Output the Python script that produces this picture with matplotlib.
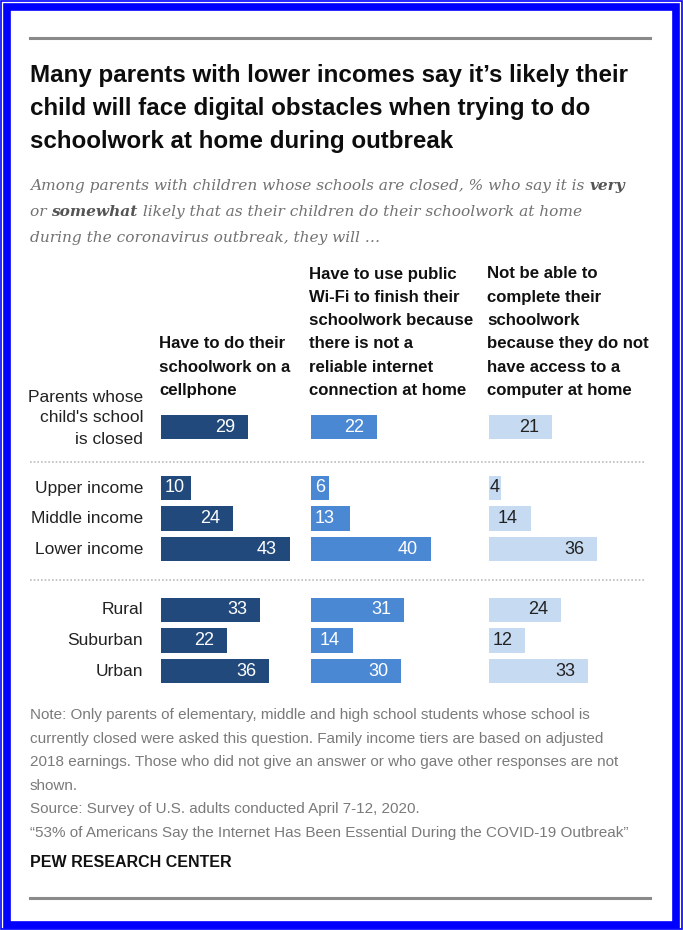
import numpy as np
import matplotlib
matplotlib.use("Agg")
import matplotlib.pyplot as plt
from matplotlib import font_manager
from matplotlib.patches import Rectangle
from matplotlib.lines import Line2D

# ---- data ----
rows = ["Parents whose\nchild's school\nis closed",
        "Upper income", "Middle income", "Lower income",
        "Rural", "Suburban", "Urban"]
row_pos = [0, 2, 3, 4, 6, 7, 8]
cellphone = [29, 10, 24, 43, 33, 22, 36]
public_wifi = [22, 6, 13, 40, 31, 14, 30]
no_computer = [21, 4, 14, 36, 24, 12, 33]
headers = [
    ["Have to do their", "schoolwork on a", "cellphone"],
    ["Have to use public", "Wi-Fi to finish their", "schoolwork because",
     "there is not a", "reliable internet", "connection at home"],
    ["Not be able to", "complete their", "schoolwork",
     "because they do not", "have access to a", "computer at home"],
]
title_lines = ["Many parents with lower incomes say it\u2019s likely their",
               "child will face digital obstacles when trying to do",
               "schoolwork at home during outbreak"]
note_lines = [
    "Note: Only parents of elementary, middle and high school students whose school is",
    "currently closed were asked this question. Family income tiers are based on adjusted",
    "2018 earnings. Those who did not give an answer or who gave other responses are not",
    "shown.",
    "Source: Survey of U.S. adults conducted April 7-12, 2020.",
    "\u201c53% of Americans Say the Internet Has Been Essential During the COVID-19 Outbreak\u201d",
]

W, H = 683, 930
names = {f.name for f in font_manager.fontManager.ttflist}
COND = "Liberation Sans Narrow" if "Liberation Sans Narrow" in names else "Liberation Sans"
SERIF = "DejaVu Serif"

colors = ["#21497c", "#4a88d4", "#c6daf1"]
label_colors = ["white", "white", "#222222"]


def fx(px):
    return px / W


def fy(py):
    return 1 - py / H


fig = plt.figure(figsize=(W / 100, H / 100), dpi=100)
fig.patch.set_facecolor("white")

# blue frame
fig.add_artist(Rectangle((fx(1), fy(929)), fx(681), 928 / H, transform=fig.transFigure,
                         fill=False, edgecolor="#0000ff", linewidth=1.2))
fig.add_artist(Rectangle((fx(7), fy(924.5)), fx(669), 917.5 / H, transform=fig.transFigure,
                         fill=False, edgecolor="#0000ff", linewidth=5.5))

# top / bottom rules
for y in (38, 898):
    fig.add_artist(Line2D([fx(30), fx(650)], [fy(y), fy(y)], transform=fig.transFigure,
                          color="#8a8a8a", linewidth=2.2))

# title
for i, line in enumerate(title_lines):
    fig.text(fx(30), fy(82 + i * 33), line, fontsize=17.4, fontweight="bold",
             family=COND, color="#0d0d0d", va="baseline", ha="left")

# subtitle with bold words
renderer = fig.canvas.get_renderer()
sub_parts = [
    [("Among parents with children whose schools are closed, % who say it is ", "normal"),
     ("very", "bold")],
    [("or ", "normal"), ("somewhat", "bold"),
     (" likely that as their children do their schoolwork at home", "normal")],
    [("during the coronavirus outbreak, they will \u2026", "normal")],
]
for i, parts in enumerate(sub_parts):
    x = fx(30)
    for txt, wt in parts:
        t = fig.text(x, fy(190 + i * 26), txt, fontsize=11.1, family=SERIF, style="italic",
                     fontweight=wt, color="#555555" if wt == "bold" else "#727272",
                     va="baseline", ha="left")
        bb = t.get_window_extent(renderer)
        x += bb.width / W

# column headers
col_left = [161, 311, 489]
for c, lines in enumerate(headers):
    n = len(lines)
    for j, line in enumerate(lines):
        fig.text(fx(col_left[c] - 2), fy(395 - (n - 1 - j) * 23.3), line, fontsize=12.1,
                 fontweight="bold", family=COND, color="#111111", va="baseline", ha="left")

# bars: one axes per column, 3 px per percentage point
pitch = 30.5
top_px = 427 - 0.5 * pitch
ax_h = 9 * pitch
series = [cellphone, public_wifi, no_computer]
axes = []
for c, vals in enumerate(series):
    ax = fig.add_axes([fx(col_left[c]), fy(top_px + ax_h), fx(150), ax_h / H])
    ax.barh(row_pos, vals, height=0.8, color=colors[c], left=0)
    ax.set_xlim(0, 50)
    ax.set_ylim(8.5, -0.5)
    ax.axis("off")
    for v, p in zip(vals, row_pos):
        if v >= 14:
            ax.annotate(str(v), xy=(v, p), xytext=(-13, 0), textcoords="offset pixels",
                        ha="right", va="center", fontsize=13, family=COND,
                        color=label_colors[c])
        else:
            ax.annotate(str(v), xy=(0, p), xytext=(4 if v > 5 else 1, 0),
                        textcoords="offset pixels", ha="left", va="center",
                        fontsize=13, family=COND, color=label_colors[c])
    axes.append(ax)

# row labels
for lab, p in zip(rows, row_pos):
    dy = 9 if "\n" in lab else 0
    axes[0].annotate(lab, xy=(0, p), xycoords=("axes fraction", "data"),
                     xytext=(-18, dy), textcoords="offset pixels", ha="right",
                     va="center", multialignment="right", fontsize=12.5, family=COND,
                     color="#222222", linespacing=1.5)

# dotted separators
for y in (462, 580):
    fig.add_artist(Line2D([fx(30), fx(646)], [fy(y), fy(y)], transform=fig.transFigure,
                          color="#bbbbbb", linewidth=1.2, linestyle=(0, (1, 1.2))))

# notes
for i, line in enumerate(note_lines):
    fig.text(fx(30), fy(719 + i * 23.5), line, fontsize=11, family=COND,
             color="#7a7a7a", va="baseline", ha="left")
fig.text(fx(30), fy(867), "PEW RESEARCH CENTER", fontsize=11.5, fontweight="bold",
         family=COND, color="#111111", va="baseline", ha="left")

fig.savefig("out.png", dpi=100)
